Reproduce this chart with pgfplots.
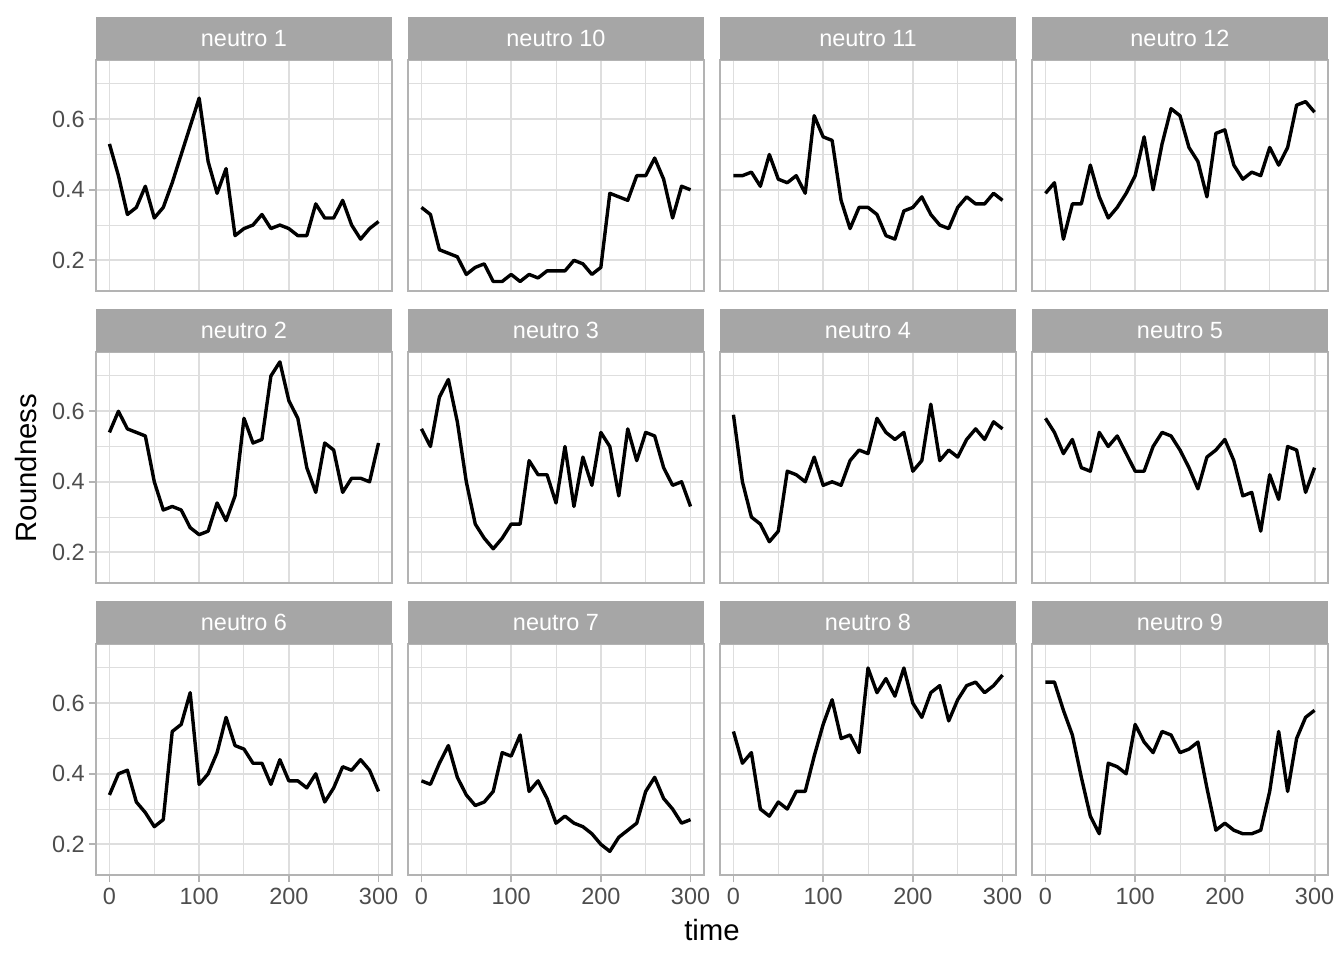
\documentclass[border=0pt]{standalone}
\usepackage{fontspec}
\setmainfont{Liberation Sans}
\usepackage{pgfplots}
\usepackage{pgfplotstable}
\pgfplotsset{compat=1.18}
\definecolor{stripgrey}{HTML}{A6A6A6}
\definecolor{bordergrey}{HTML}{B3B3B3}
\definecolor{gridgrey}{HTML}{DEDEDE}
\definecolor{ticklab}{HTML}{4D4D4D}

\pgfplotstableread{
t n1 n10 n11 n12 n2 n3 n4 n5 n6 n7 n8 n9
0 0.53 0.35 0.44 0.39 0.54 0.55 0.59 0.58 0.34 0.38 0.52 0.66
10 0.44 0.33 0.44 0.42 0.60 0.50 0.40 0.54 0.40 0.37 0.43 0.66
20 0.33 0.23 0.45 0.26 0.55 0.64 0.30 0.48 0.41 0.43 0.46 0.58
30 0.35 0.22 0.41 0.36 0.54 0.69 0.28 0.52 0.32 0.48 0.30 0.51
40 0.41 0.21 0.50 0.36 0.53 0.57 0.23 0.44 0.29 0.39 0.28 0.39
50 0.32 0.16 0.43 0.47 0.40 0.40 0.26 0.43 0.25 0.34 0.32 0.28
60 0.35 0.18 0.42 0.38 0.32 0.28 0.43 0.54 0.27 0.31 0.30 0.23
70 0.42 0.19 0.44 0.32 0.33 0.24 0.42 0.50 0.52 0.32 0.35 0.43
80 0.50 0.14 0.39 0.35 0.32 0.21 0.40 0.53 0.54 0.35 0.35 0.42
90 0.58 0.14 0.61 0.39 0.27 0.24 0.47 0.48 0.63 0.46 0.45 0.40
100 0.66 0.16 0.55 0.44 0.25 0.28 0.39 0.43 0.37 0.45 0.54 0.54
110 0.48 0.14 0.54 0.55 0.26 0.28 0.40 0.43 0.40 0.51 0.61 0.49
120 0.39 0.16 0.37 0.40 0.34 0.46 0.39 0.50 0.46 0.35 0.50 0.46
130 0.46 0.15 0.29 0.53 0.29 0.42 0.46 0.54 0.56 0.38 0.51 0.52
140 0.27 0.17 0.35 0.63 0.36 0.42 0.49 0.53 0.48 0.33 0.46 0.51
150 0.29 0.17 0.35 0.61 0.58 0.34 0.48 0.49 0.47 0.26 0.70 0.46
160 0.30 0.17 0.33 0.52 0.51 0.50 0.58 0.44 0.43 0.28 0.63 0.47
170 0.33 0.20 0.27 0.48 0.52 0.33 0.54 0.38 0.43 0.26 0.67 0.49
180 0.29 0.19 0.26 0.38 0.70 0.47 0.52 0.47 0.37 0.25 0.62 0.36
190 0.30 0.16 0.34 0.56 0.74 0.39 0.54 0.49 0.44 0.23 0.70 0.24
200 0.29 0.18 0.35 0.57 0.63 0.54 0.43 0.52 0.38 0.20 0.60 0.26
210 0.27 0.39 0.38 0.47 0.58 0.50 0.46 0.46 0.38 0.18 0.56 0.24
220 0.27 0.38 0.33 0.43 0.44 0.36 0.62 0.36 0.36 0.22 0.63 0.23
230 0.36 0.37 0.30 0.45 0.37 0.55 0.46 0.37 0.40 0.24 0.65 0.23
240 0.32 0.44 0.29 0.44 0.51 0.46 0.49 0.26 0.32 0.26 0.55 0.24
250 0.32 0.44 0.35 0.52 0.49 0.54 0.47 0.42 0.36 0.35 0.61 0.35
260 0.37 0.49 0.38 0.47 0.37 0.53 0.52 0.35 0.42 0.39 0.65 0.52
270 0.30 0.43 0.36 0.52 0.41 0.44 0.55 0.50 0.41 0.33 0.66 0.35
280 0.26 0.32 0.36 0.64 0.41 0.39 0.52 0.49 0.44 0.30 0.63 0.50
290 0.29 0.41 0.39 0.65 0.40 0.40 0.57 0.37 0.41 0.26 0.65 0.56
300 0.31 0.40 0.37 0.62 0.51 0.33 0.55 0.44 0.35 0.27 0.68 0.58
}\data

\pgfplotsset{facet/.style={
  scale only axis, width=148pt, height=115.5pt,
  xmin=-15, xmax=315, ymin=0.113, ymax=0.768,
  xtick={0,100,200,300}, ytick={0.2,0.4,0.6},
  yticklabels={0.2,0.4,0.6},
  minor xtick={50,150,250}, minor ytick={0.3,0.5,0.7},
  grid=both,
  major grid style={gridgrey, line width=0.95pt},
  minor grid style={gridgrey, line width=0.5pt},
  axis line style={bordergrey, line width=0.9pt},
  major tick style={bordergrey, line width=0.95pt},
  major tick length=3.67pt, minor tick length=0pt,
  tick align=outside, tick pos=left,
  clip=false,
  /pgf/number format/assume math mode=true,
  ticklabel style={font=\fontsize{11.73}{14}\selectfont, text=ticklab},
  xticklabel style={inner sep=0pt, yshift=-2.5pt},
  yticklabel style={inner sep=0pt, xshift=-1.8pt},
}}

\newcommand{\facet}[5]{%
\begin{axis}[facet, at={(#1,#2)}, anchor=south west, #5]
\addplot[black, line width=1.7pt, line join=round] table[x=t, y=#3] {\data};
\fill[stripgrey] (rel axis cs:0,1) rectangle ([yshift=21.5pt]rel axis cs:1,1);
\node[text=white, font=\fontsize{11.73}{14}\selectfont, inner sep=0pt] at ([yshift=10.75pt]rel axis cs:0.5,1) {#4};
\end{axis}}

\begin{document}
\begin{tikzpicture}
\useasboundingbox (0,0) rectangle (672pt,480pt);
\facet{48pt}{334.5pt}{n1}{neutro 1}{xmajorticks=false}
\facet{204pt}{334.5pt}{n10}{neutro 10}{xmajorticks=false, ymajorticks=false}
\facet{360pt}{334.5pt}{n11}{neutro 11}{xmajorticks=false, ymajorticks=false}
\facet{516pt}{334.5pt}{n12}{neutro 12}{xmajorticks=false, ymajorticks=false}
\facet{48pt}{188.5pt}{n2}{neutro 2}{xmajorticks=false}
\facet{204pt}{188.5pt}{n3}{neutro 3}{xmajorticks=false, ymajorticks=false}
\facet{360pt}{188.5pt}{n4}{neutro 4}{xmajorticks=false, ymajorticks=false}
\facet{516pt}{188.5pt}{n5}{neutro 5}{xmajorticks=false, ymajorticks=false}
\facet{48pt}{42.5pt}{n6}{neutro 6}{}
\facet{204pt}{42.5pt}{n7}{neutro 7}{ymajorticks=false}
\facet{360pt}{42.5pt}{n8}{neutro 8}{ymajorticks=false}
\facet{516pt}{42.5pt}{n9}{neutro 9}{ymajorticks=false}
\node[font=\fontsize{14.67}{17}\selectfont, anchor=base] at (356pt,10pt) {time};
\node[font=\fontsize{14.67}{17}\selectfont, rotate=90, anchor=base] at (18pt,246pt) {Roundness};
\end{tikzpicture}
\end{document}
